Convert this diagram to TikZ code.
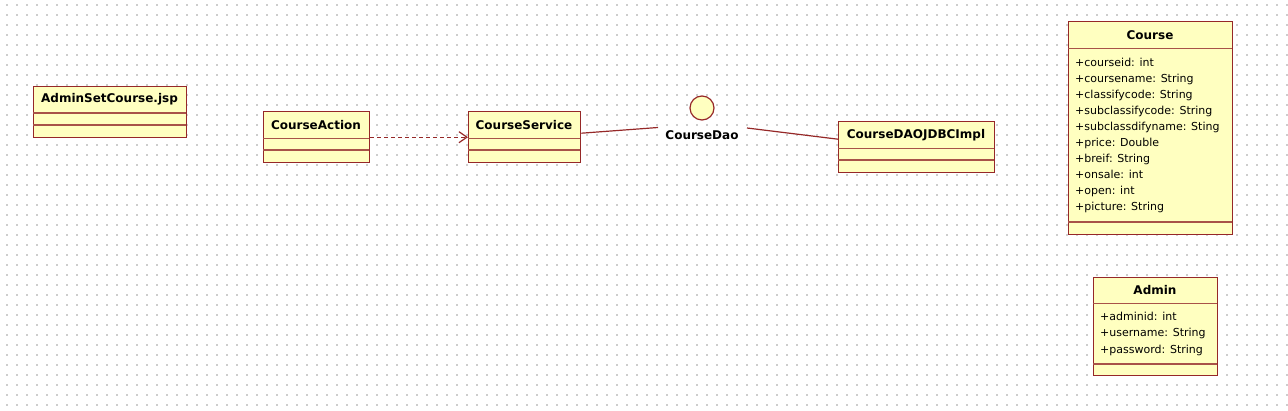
\documentclass[tikz,border=0pt]{standalone}
\usepackage{fontspec}
\setmainfont{DejaVu Sans}
\usetikzlibrary{calc,arrows.meta}

\definecolor{umlfill}{RGB}{255,255,192}
\definecolor{umlline}{RGB}{150,40,40}
\definecolor{umlsep}{RGB}{168,82,72}
\definecolor{griddot}{RGB}{205,205,205}

\begin{document}
\begin{tikzpicture}[x=1pt, y=-1pt,
	classbox/.style={draw=umlline, fill=umlfill, line width=1.4pt, inner sep=0pt, anchor=north west},
	classtitle/.style={font=\fontsize{12}{14}\selectfont\bfseries, inner sep=0pt},
	attr/.style={font=\fontsize{11}{16}\selectfont, inner sep=0pt, anchor=base west},
	sepline/.style={draw=umlsep, line width=1.2pt},
	link/.style={draw=umlline, line width=1.2pt}]

	% canvas
	\useasboundingbox[fill=white] (0,0) rectangle (1288,411);
	\foreach \gx in {0,...,128} {
		\foreach \gy in {0,...,40} {
			\fill[griddot] ({7+10*\gx-0.6},{5+10*\gy-0.6}) rectangle +(1.2,1.2);
		}
	}

	% classes
	\foreach \n/\xa/\ya/\xb/\yb/\sepa/\sepb/\ttl in {
		jsp/33/86/186/137/113/125/AdminSetCourse.jsp,
		action/263/111/369/162/138.5/150/CourseAction,
		service/468/111/580/162/138.5/150/CourseService,
		impl/838/121/994/172/148.5/160/CourseDAOJDBCImpl,
		course/1068/21/1232/234/48.5/222/Course,
		admin/1093/277/1217/375/303.5/364/Admin} {
		\node[classbox, minimum width={(\xb-\xa)*1pt}, minimum height={(\yb-\ya)*1pt}] (\n) at (\xa,\ya) {};
		\draw[sepline] (\xa,\sepa) -- (\xb,\sepa);
		\draw[sepline] (\xa,\sepb) -- (\xb,\sepb);
		\node[classtitle] (\n-title) at ({(\xa+\xb)/2},{(\ya+\sepa)/2}) {\ttl};
	}

	% attributes
	\foreach \a [count=\i] in {+courseid: int, +coursename: String, +classifycode: String,
		+subclassifycode: String, +subclassdifyname: Sting, +price: Double,
		+breif: String, +onsale: int, +open: int, +picture: String} {
		\node[attr] (course-a\i) at (1075,{66.5+16*(\i-1)}) {\a};
	}
	\foreach \a [count=\i] in {+adminid: int, +username: String, +password: String} {
		\node[attr] (admin-a\i) at (1100,{320.5+16.5*(\i-1)}) {\a};
	}

	% interface
	\node[circle, draw=umlline, fill=umlfill, line width=1.2pt, minimum size=24pt, inner sep=0pt] (dao) at (702,108) {};
	\node[classtitle] (dao-label) at (702,135) {CourseDao};
	\coordinate (dao-in) at (658,127.5);
	\coordinate (dao-out) at (747,128);

	% connectors
	\draw[link, dash pattern=on 4pt off 3pt, -{Straight Barb[length=8pt, width=11pt]}] (action) -- (service);
	\draw[link] ($(service.east)+(0,-4)$) -- (dao-in);
	\draw[link] (dao-out) -- ($(impl.west)+(0,-8)$);

\end{tikzpicture}
\end{document}
